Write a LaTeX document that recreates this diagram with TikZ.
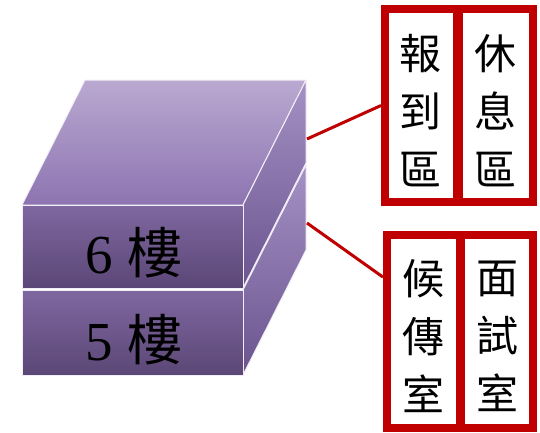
\documentclass[tikz,border=0pt]{standalone}
\usepackage{fontspec}
\setmainfont{Liberation Serif}
\newfontfamily\cjk{Noto Sans CJK TC}
\usetikzlibrary{calc}
\definecolor{boxred}{HTML}{C00000}
\definecolor{topA}{HTML}{BAA9D1}
\definecolor{topB}{HTML}{8D74B1}
\definecolor{frontA}{HTML}{7F67A0}
\definecolor{frontB}{HTML}{5B4776}
\definecolor{sideA}{HTML}{A591C5}
\definecolor{sideB}{HTML}{6B548E}
\definecolor{edgecol}{HTML}{F2EEF7}
\tikzset{
  face/.style={draw=edgecol, line width=1pt, line join=round},
  roombox/.style={draw=boxred, line width=8pt, fill=white, inner sep=0pt},
  roomtext/.style={align=center, inner sep=0pt, font=\cjk\fontsize{42}{58}\selectfont},
  floorlabel/.style={anchor=base, inner sep=0pt, font=\fontsize{55}{60}\selectfont},
  link/.style={draw=boxred, line width=3pt}
}
\begin{document}
\begin{tikzpicture}[x=1pt,y=-1pt]
\useasboundingbox (0,0) rectangle (540,432);
% 5th floor block
\shade[face, top color=sideA, bottom color=sideB] (243,290) -- (306,165) -- (306,250) -- (243,375) -- cycle;
\shade[face, top color=frontA, bottom color=frontB] (22,290) rectangle (243,375);
% 6th floor block
\shade[face, top color=topA, bottom color=topB] (22,205) -- (85,80) -- (306,80) -- (243,205) -- cycle;
\shade[face, top color=sideA, bottom color=sideB] (243,205) -- (306,80) -- (306,163) -- (243,288) -- cycle;
\shade[face, top color=frontA, bottom color=frontB] (22,205) rectangle (243,288);
\node[floorlabel] (f6) at (134,273) {6 {\cjk 樓}};
\node[floorlabel] (f5) at (134,360) {5 {\cjk 樓}};
\coordinate (c6) at (307,139);
\coordinate (c5) at (307,223);
% room boxes
\node[roombox, minimum width=71.7pt, minimum height=193pt] (bao) at (420.85,105.5) {};
\node[roombox, minimum width=73.8pt, minimum height=193pt] (xiu) at (495.6,105.5) {};
\node[roombox, minimum width=73pt, minimum height=192.5pt] (hou) at (423.5,331.25) {};
\node[roombox, minimum width=72pt, minimum height=192.5pt] (mian) at (497,331.25) {};
\node[roomtext] (baot) at ($(bao.center)+(0,5)$) {報\\到\\區};
\node[roomtext] (xiut) at ($(xiu.center)+(0,5)$) {休\\息\\區};
\node[roomtext] (hout) at ($(hou.center)+(0,5)$) {候\\傳\\室};
\node[roomtext] (miant) at ($(mian.center)+(0,5)$) {面\\試\\室};
\draw[link] (c6) -- (bao.west);
\draw[link] (c5) -- ($(hou.north west)!0.23!(hou.south west)$);
\end{tikzpicture}
\end{document}
